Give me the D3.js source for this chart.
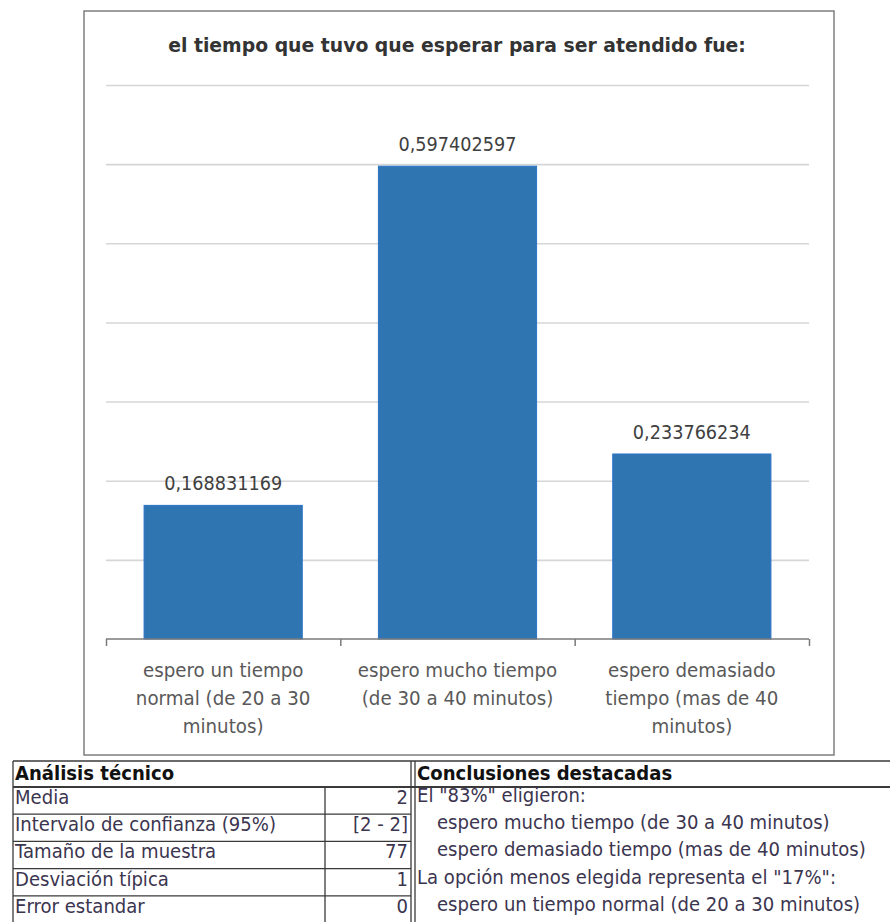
<!DOCTYPE html>
<html>
<head>
<meta charset="utf-8">
<script src="https://cdn.jsdelivr.net/npm/d3@7"></script>
<style>
  html, body { margin: 0; padding: 0; background: #fff; }
  svg { display: block; font-family: "DejaVu Sans", Verdana, sans-serif; }
</style>
</head>
<body>
<svg id="chart" width="890" height="922"></svg>
<script>
// ---- data ----
const title = "el tiempo que tuvo que esperar para ser atendido fue:";
const categoryLines = [
  ["espero un tiempo", "normal (de 20 a 30", "minutos)"],
  ["espero mucho tiempo", "(de 30 a 40 minutos)"],
  ["espero demasiado", "tiempo (mas de 40", "minutos)"]
];
const values = [0.168831169, 0.597402597, 0.233766234];
const gridTicks = [0.1, 0.2, 0.3, 0.4, 0.5, 0.6, 0.7];

const statsTitle = "Análisis técnico";
const statLabels = ["Media", "Intervalo de confianza (95%)", "Tamaño de la muestra", "Desviación típica", "Error estandar"];
const statValues = ["2", "[2 - 2]", "77", "1", "0"];

const conclusionsTitle = "Conclusiones destacadas";
const conclusionGroups = [
  { heading: "El \"83%\" eligieron:",
    items: ["espero mucho tiempo (de 30 a 40 minutos)", "espero demasiado tiempo (mas de 40 minutos)"] },
  { heading: "La opción menos elegida representa el \"17%\":",
    items: ["espero un tiempo normal (de 20 a 30 minutos)"] }
];

// ---- helpers ----
const svg = d3.select("#chart");

// squeeze text horizontally to give the narrow look of the original font
function condense(sel, k) {
  sel.each(function () {
    const w = this.getComputedTextLength();
    d3.select(this).attr("textLength", w * k).attr("lengthAdjust", "spacingAndGlyphs");
  });
}

const fmtValue = v => v.toFixed(9).replace(".", ",");

// ---- chart frame ----
const frame = { x: 84, y: 11, w: 750, h: 744 };
svg.append("rect")
  .attr("x", frame.x).attr("y", frame.y)
  .attr("width", frame.w).attr("height", frame.h)
  .attr("fill", "#fff").attr("stroke", "#7f7f7f").attr("stroke-width", 1.5);

svg.append("text")
  .attr("x", 457).attr("y", 52)
  .attr("text-anchor", "middle")
  .attr("font-size", 20).attr("font-weight", "bold").attr("fill", "#333")
  .text(title)
  .call(condense, 0.94);

// ---- scales ----
const plot = { left: 106, right: 809, top: 85, bottom: 639 };
const x = d3.scaleBand()
  .domain(d3.range(values.length))
  .range([plot.left, plot.right])
  .paddingInner(0.325).paddingOuter(0.1625);
const y = d3.scaleLinear().domain([0, 0.7]).range([plot.bottom, plot.top]);
const xEdge = d3.scaleLinear().domain([0, values.length]).range([plot.left, plot.right]);

// gridlines
const grid = svg.append("g")
  .attr("transform", `translate(${plot.left},0)`)
  .call(d3.axisLeft(y).tickValues(gridTicks).tickSize(-(plot.right - plot.left)).tickFormat(""));
grid.select(".domain").remove();
grid.selectAll(".tick line").attr("stroke", "#d6d6d6").attr("stroke-width", 1.6);

// bars
svg.append("g").selectAll("rect")
  .data(values)
  .join("rect")
  .attr("x", (d, i) => x(i))
  .attr("y", d => y(d))
  .attr("width", x.bandwidth())
  .attr("height", d => y(0) - y(d))
  .attr("fill", "#2f75b1")
  .attr("stroke", "#2a72c8").attr("stroke-width", 1);

// value labels
svg.append("g").selectAll("text")
  .data(values)
  .join("text")
  .attr("x", (d, i) => x(i) + x.bandwidth() / 2)
  .attr("y", d => y(d) - 15)
  .attr("text-anchor", "middle")
  .attr("font-size", 19).attr("fill", "#404040")
  .text(d => fmtValue(d))
  .call(condense, 0.93);

// category axis with ticks between categories
const axis = svg.append("g")
  .attr("transform", `translate(0,${plot.bottom})`)
  .call(d3.axisBottom(xEdge).tickValues(d3.range(values.length + 1)).tickSize(7).tickFormat(""));
axis.select(".domain").attr("stroke", "#7a7a7a").attr("stroke-width", 1.5).attr("d", `M${plot.left},0H${plot.right}`);
axis.selectAll(".tick line").attr("stroke", "#7a7a7a").attr("stroke-width", 1.5);

// category labels
categoryLines.forEach((lines, i) => {
  svg.append("g").selectAll("text")
    .data(lines)
    .join("text")
    .attr("x", x(i) + x.bandwidth() / 2)
    .attr("y", (d, j) => 677 + j * 28)
    .attr("text-anchor", "middle")
    .attr("font-size", 19).attr("fill", "#595959")
    .text(d => d)
    .call(condense, 0.96);
});

// ---- summary tables ----
const tbl = { left: 13, valCol: 325, split: 411, split2: 415, right: 892, top: 761, headBottom: 787, rowH: 27.2 };
const lineColor = "#3a3a3a";
const line = (x1, y1, x2, y2, w) => svg.append("line")
  .attr("x1", x1).attr("y1", y1).attr("x2", x2).attr("y2", y2)
  .attr("stroke", lineColor).attr("stroke-width", w || 1.3);

// left block: technical analysis
line(tbl.left, tbl.top, tbl.right, tbl.top, 1.5);
line(tbl.left, tbl.headBottom, tbl.right, tbl.headBottom, 2);
line(tbl.left, tbl.top, tbl.left, 922);
line(tbl.split, tbl.top, tbl.split, 922);
line(tbl.split2, tbl.top, tbl.split2, 922);
line(tbl.valCol, tbl.headBottom, tbl.valCol, 922);
statLabels.forEach((s, i) => {
  if (i > 0) line(tbl.left, tbl.headBottom + i * tbl.rowH, tbl.split, tbl.headBottom + i * tbl.rowH);
});

svg.append("text")
  .attr("x", tbl.left + 2).attr("y", 780)
  .attr("font-size", 19).attr("font-weight", "bold").attr("fill", "#111")
  .text(statsTitle).call(condense, 0.95);

svg.append("g").selectAll("text")
  .data(statLabels)
  .join("text")
  .attr("x", tbl.left + 2)
  .attr("y", (d, i) => tbl.headBottom + 17 + i * tbl.rowH)
  .attr("font-size", 19).attr("fill", "#3b3550")
  .text(d => d).call(condense, 0.95);

svg.append("g").selectAll("text")
  .data(statValues)
  .join("text")
  .attr("x", tbl.split - 3)
  .attr("y", (d, i) => tbl.headBottom + 17 + i * tbl.rowH)
  .attr("text-anchor", "end")
  .attr("font-size", 19).attr("fill", "#3b3550")
  .text(d => d).call(condense, 0.95);

// right block: highlighted conclusions
svg.append("text")
  .attr("x", tbl.split2 + 2).attr("y", 780)
  .attr("font-size", 19).attr("font-weight", "bold").attr("fill", "#111")
  .text(conclusionsTitle).call(condense, 0.95);

const conclusionRows = [];
conclusionGroups.forEach(g => {
  conclusionRows.push({ text: g.heading, indent: 0 });
  g.items.forEach(t => conclusionRows.push({ text: t, indent: 1 }));
});
svg.append("g").selectAll("text")
  .data(conclusionRows)
  .join("text")
  .attr("x", d => tbl.split2 + 2 + d.indent * 20)
  .attr("y", (d, i) => tbl.headBottom + 15 + i * tbl.rowH)
  .attr("font-size", 19).attr("fill", "#3b3550")
  .text(d => d.text).call(condense, 0.95);
</script>
</body>
</html>
